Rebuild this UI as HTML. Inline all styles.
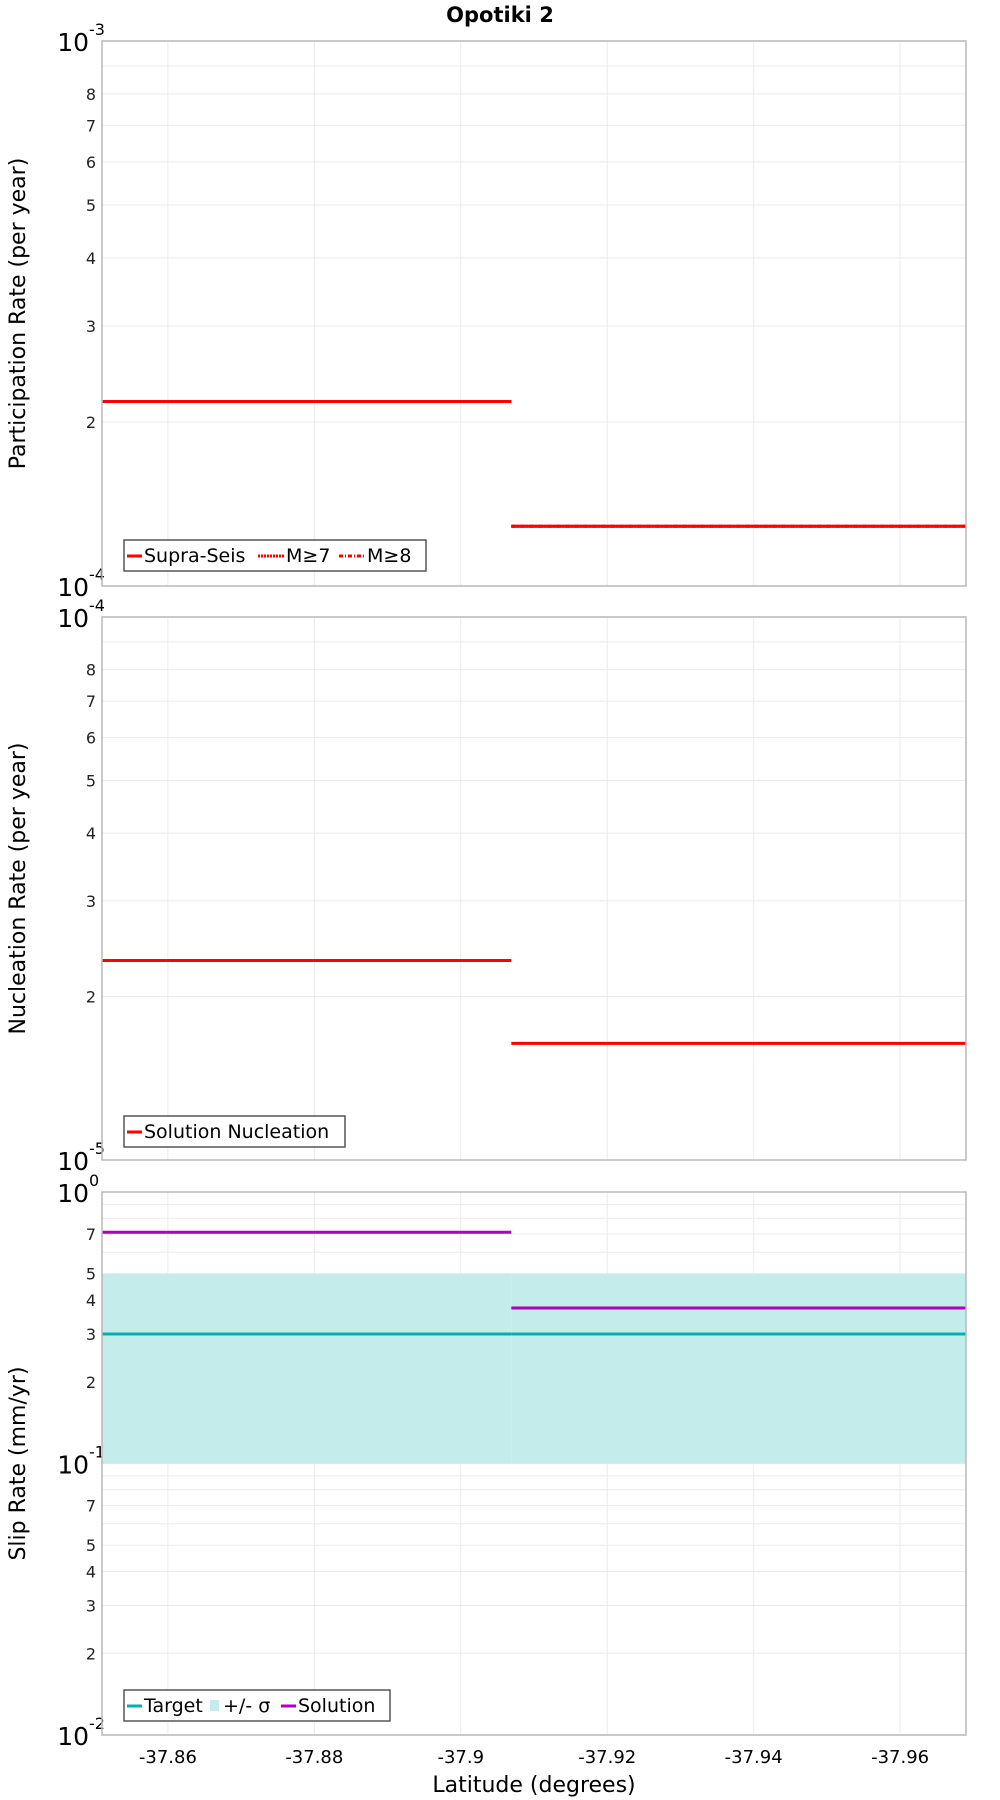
<!DOCTYPE html>
<html><head><meta charset="utf-8"><style>
body{margin:0;background:#fff;}
svg{display:block;font-family:"DejaVu Sans","Liberation Sans",sans-serif;}
</style></head><body>
<svg id="chart" width="1000" height="1800" viewBox="0 0 1000 1800" xmlns="http://www.w3.org/2000/svg">
<text x="500" y="22" text-anchor="middle" font-size="21" font-weight="bold">Opotiki 2</text>
<text x="534" y="1792" text-anchor="middle" font-size="22">Latitude (degrees)</text>
</svg>
<script>
const xTicks = [-37.86, -37.88, -37.9, -37.92, -37.94, -37.96];
const xTickLabels = ["-37.86", "-37.88", "-37.9", "-37.92", "-37.94", "-37.96"];
const segStarts = [-37.851, -37.9069];
const segEnds = [-37.9069, -37.969];
const participation = [2.18e-4, 1.287e-4];
const m7 = [2.18e-4, 1.287e-4];
const m8 = [2.18e-4, 1.287e-4];
const nucleation = [2.33e-5, 1.64e-5];
const slipSolution = [0.711, 0.374];
const slipTarget = [0.3, 0.3];
const slipLow = [0.1, 0.1];
const slipHigh = [0.5, 0.5];

const NS = "http://www.w3.org/2000/svg";
const svg = document.getElementById('chart');
const X0 = 102, X1 = 966, XMIN = -37.851, XMAX = -37.969;
function xs(v){ return X0 + (v - XMIN) / (XMAX - XMIN) * (X1 - X0); }
function mk(tag, attrs, parent){ const e = document.createElementNS(NS, tag); for (const k in attrs) e.setAttribute(k, attrs[k]); (parent||svg).appendChild(e); return e; }

function panel(name, top, bot, dmin, dmax, minorLabels, title){
  const g = mk('g', {});
  
  
  const ys = v => bot - (Math.log10(v) - dmin) / (dmax - dmin) * (bot - top);
  for (let d = dmin; d < dmax; d++) {
    for (let m = 2; m <= 9; m++) {
      const y = ys(m * Math.pow(10, d));
      mk('line', {x1:X0, x2:X1, y1:y, y2:y, stroke:'#ebebeb', 'stroke-width':1}, g);
      if (minorLabels.includes(m)) {
        const t = mk('text', {x:96, y:y+6, 'text-anchor':'end', 'font-size':16, fill:'#222'}, g);
        t.textContent = m;
        
        
      }
    }
  }
  for (let d = dmin; d <= dmax; d++) {
    const y = ys(Math.pow(10, d));
    mk('line', {x1:X0, x2:X1, y1:y, y2:y, stroke:'#ebebeb', 'stroke-width':1}, g);
    const t = mk('text', {x:89, y:y+10, 'text-anchor':'end', 'font-size':25, fill:'#000'}, g);
    t.textContent = '10';
    
    
    const s = mk('text', {x:89, y:y-6, 'text-anchor':'start', 'font-size':16, fill:'#000'}, g);
    s.textContent = String(d);
    
    
  }
  xTicks.forEach(v => { mk('line', {x1:xs(v), x2:xs(v), y1:top, y2:bot, stroke:'#ebebeb', 'stroke-width':1}, g); });
  const tt = mk('text', {x:0, y:0, 'text-anchor':'middle', 'font-size':22, transform:`translate(25,${(top+bot)/2}) rotate(-90)`}, g);
  tt.textContent = title;
  
  
  return {g, ys};
}
function frame(g, top, bot){ mk('rect', {x:X0, y:top, width:X1-X0, height:bot-top, fill:'none', stroke:'#b8b8b8', 'stroke-width':1.5}, g); }
function seg(g, ys, vals, color, w, dash, nm){
  vals.forEach((v, i) => {
    const l = mk('line', {x1:xs(segStarts[i]), x2:xs(segEnds[i]), y1:ys(v), y2:ys(v), stroke:color, 'stroke-width':w}, g);
    if (dash) l.setAttribute('stroke-dasharray', dash);
    
    
  });
}
function legend(g, x, y, w, items){
  const b = mk('rect', {x:x, y:y, width:w, height:31, fill:'#fff', stroke:'#555', 'stroke-width':1.5}, g);
  
  
  let cx = x + 3;
  items.forEach(it => {
    if (it.box) mk('rect', {x:cx, y:y+10, width:9, height:11, fill:it.color}, g);
    else { const l = mk('line', {x1:cx, x2:cx+ (it.len||15), y1:y+16, y2:y+16, stroke:it.color, 'stroke-width':3}, g); if (it.dash) l.setAttribute('stroke-dasharray', it.dash); }
    cx += (it.box ? 11 : (it.len||15)) + 2;
    const t = mk('text', {x:cx, y:y+22, 'font-size':19}, g);
    t.textContent = it.label;
    
    
    cx += it.tw;
  });
}

let p = panel('participation', 41, 586, -4, -3, [2,3,4,5,6,7,8], 'Participation Rate (per year)');
seg(p.g, p.ys, participation, '#f00', 3, null, 'supra-seis');
seg(p.g, p.ys, m7, '#f00', 3, '2,1', 'm7');
seg(p.g, p.ys, m8, '#f00', 3, '4,2,1,2', 'm8');
frame(p.g, 41, 586);
legend(p.g, 124, 540, 302, [{color:'#f00', label:'Supra-Seis', tw:114},{color:'#f00', dash:'2,1', len:26, label:'M≥7', tw:53},{color:'#f00', dash:'4,2,1,2', len:26, label:'M≥8', tw:45}]);

p = panel('nucleation', 617, 1160, -5, -4, [2,3,4,5,6,7,8], 'Nucleation Rate (per year)');
seg(p.g, p.ys, nucleation, '#f00', 3, null, 'solution-nucleation');
frame(p.g, 617, 1160);
legend(p.g, 124, 1116, 221, [{color:'#f00', label:'Solution Nucleation', tw:200}]);

p = panel('slip', 1192, 1735, -2, 0, [2,3,4,5,7], 'Slip Rate (mm/yr)');
slipLow.forEach((v, i) => {
  const r = mk('rect', {x:xs(segStarts[i]), y:p.ys(slipHigh[i]), width:xs(segEnds[i])-xs(segStarts[i]), height:p.ys(v)-p.ys(slipHigh[i]), fill:'#c3ecea'}, p.g);
  
  
});
seg(p.g, p.ys, slipTarget, '#00b0b0', 3, null, 'target');
seg(p.g, p.ys, slipSolution, '#b000c0', 3, null, 'solution');
frame(p.g, 1192, 1735);
legend(p.g, 124, 1690, 266, [{color:'#00b0b0', label:'Target', tw:66},{color:'#c3ecea', box:true, label:'+/- σ', tw:58},{color:'#b000c0', label:'Solution', tw:80}]);

xTicks.forEach((v, i) => {
  const t = mk('text', {x:xs(v), y:1763, 'text-anchor':'middle', 'font-size':18});
  t.textContent = xTickLabels[i];
  
  
});
</script>
</body></html>
